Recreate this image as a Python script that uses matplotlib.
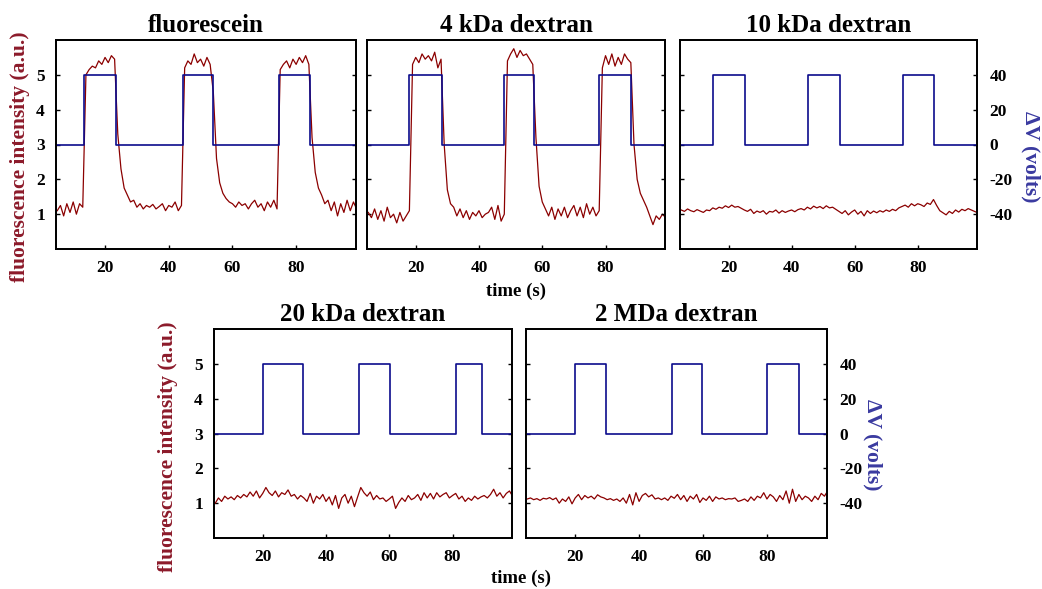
import numpy as np
import matplotlib
matplotlib.use('Agg')
import matplotlib.pyplot as plt

plt.rcParams['font.family'] = ['Liberation Serif', 'DejaVu Serif']
plt.rcParams['font.weight'] = 'bold'
plt.rcParams['axes.unicode_minus'] = False

# sampling times of the fluorescence traces (s)
t = np.arange(5, 100, 1.0)

titles = ['fluorescein', '4 kDa dextran', '10 kDa dextran',
          '20 kDa dextran', '2 MDa dextran']

# fluorescence intensity (a.u.), one value per second from t=5 to t=99
fluor_fluorescein = [
    1.10, 1.25, 0.95, 1.30, 1.05, 1.35, 1.00, 1.30, 1.20, 5.00,
    5.15, 5.25, 5.20, 5.40, 5.30, 5.50, 5.35, 5.55, 5.45, 3.30,
    2.30, 1.75, 1.55, 1.35, 1.40, 1.20, 1.30, 1.15, 1.25, 1.20,
    1.28, 1.15, 1.22, 1.30, 1.10, 1.25, 1.20, 1.35, 1.10, 1.25,
    5.20, 5.40, 5.30, 5.60, 5.35, 5.45, 5.25, 5.50, 5.30, 4.50,
    2.60, 1.90, 1.60, 1.45, 1.35, 1.30, 1.20, 1.35, 1.25, 1.30,
    1.15, 1.30, 1.40, 1.20, 1.30, 1.10, 1.35, 1.20, 1.40, 1.15,
    5.15, 5.30, 5.40, 5.20, 5.45, 5.30, 5.50, 5.35, 5.55, 5.30,
    3.20, 2.20, 1.75, 1.55, 1.30, 1.40, 1.10, 1.35, 0.95, 1.30,
    1.05, 1.40, 1.10, 1.35, 1.15]
fluor_4kda = [
    1.05, 0.90, 1.15, 0.85, 1.10, 0.80, 1.20, 0.90, 1.00, 0.75,
    1.05, 0.80, 0.95, 1.10, 5.30, 5.50, 5.35, 5.60, 5.45, 5.55,
    5.40, 5.65, 5.20, 5.45, 3.00, 1.70, 1.30, 1.20, 0.95, 1.15,
    0.90, 1.10, 0.85, 1.05, 0.95, 1.10, 0.90, 1.00, 1.05, 1.20,
    0.85, 1.25, 0.80, 1.00, 5.40, 5.60, 5.75, 5.50, 5.70, 5.55,
    5.60, 5.45, 5.30, 3.20, 1.80, 1.35, 1.15, 0.95, 1.20, 0.85,
    1.15, 0.95, 1.20, 0.90, 1.10, 1.25, 0.95, 1.20, 0.90, 1.30,
    1.00, 1.20, 0.95, 1.10, 5.20, 5.55, 5.30, 5.60, 5.25, 5.50,
    5.30, 5.60, 5.45, 5.35, 3.00, 2.00, 1.60, 1.40, 1.20, 0.95,
    0.70, 0.95, 0.85, 1.00, 0.90]
fluor_10kda = [
    1.12, 1.08, 1.15, 1.10, 1.07, 1.13, 1.09, 1.05, 1.12, 1.10,
    1.18, 1.14, 1.20, 1.17, 1.24, 1.19, 1.26, 1.20, 1.22, 1.17,
    1.12, 1.08, 1.14, 1.02, 1.09, 1.05, 1.10, 1.00, 1.08, 1.06,
    1.12, 1.03, 1.10, 1.05, 1.09, 1.12, 1.07, 1.13, 1.16, 1.12,
    1.20, 1.15, 1.23, 1.18, 1.22, 1.16, 1.24, 1.18, 1.20, 1.14,
    1.08, 1.02, 1.10, 0.98, 1.06, 1.12, 1.00, 1.08, 0.95, 1.10,
    1.02, 1.09, 1.04, 1.10, 1.06, 1.12, 1.08, 1.14, 1.10, 1.18,
    1.22, 1.26, 1.20, 1.30, 1.24, 1.30, 1.27, 1.22, 1.32, 1.28,
    1.42, 1.25, 1.10, 1.04, 0.98, 1.08, 1.02, 1.12, 1.06, 1.14,
    1.10, 1.16, 1.12, 1.08, 1.04]
fluor_20kda = [
    1.00, 1.15, 1.05, 1.20, 1.12, 1.18, 1.10, 1.22, 1.15, 1.25,
    1.18, 1.32, 1.20, 1.35, 1.15, 1.28, 1.45, 1.30, 1.22, 1.35,
    1.18, 1.30, 1.25, 1.38, 1.20, 1.25, 1.12, 1.22, 1.15, 1.05,
    1.28, 1.00, 1.20, 1.12, 1.25, 1.05, 1.18, 0.95, 1.22, 0.85,
    1.15, 1.25, 1.00, 1.20, 0.90, 1.18, 1.45, 1.30, 1.20, 1.32,
    1.10, 1.22, 1.12, 1.15, 1.05, 1.12, 1.20, 0.85, 1.02, 1.15,
    1.05, 1.22, 1.10, 1.15, 1.25, 1.08, 1.30, 1.15, 1.28, 1.12,
    1.30, 1.18, 1.25, 1.30, 1.15, 1.22, 1.28, 1.12, 1.20, 1.05,
    1.15, 1.08, 1.20, 1.12, 1.18, 1.22, 1.15, 1.25, 1.40, 1.20,
    1.30, 1.15, 1.28, 1.35, 1.20]
fluor_2mda = [
    1.12, 1.15, 1.10, 1.13, 1.08, 1.14, 1.12, 1.16, 1.10, 1.15,
    1.00, 1.12, 1.05, 1.18, 0.98, 1.15, 1.25, 1.10, 1.22, 1.15,
    1.20, 1.12, 1.24, 1.18, 1.15, 1.10, 1.13, 1.08, 1.12, 1.05,
    1.15, 1.00, 1.25, 0.95, 1.30, 1.05, 1.22, 1.28, 1.18, 1.24,
    1.12, 1.15, 1.10, 1.15, 1.08, 1.20, 1.14, 1.25, 1.10, 1.22,
    1.05, 1.20, 1.12, 1.25, 1.02, 1.15, 1.08, 1.20, 1.05, 1.18,
    1.12, 1.15, 1.10, 1.13, 1.12, 1.15, 1.05, 1.08, 1.12, 1.05,
    1.18, 1.08, 1.20, 1.15, 1.30, 1.12, 1.25, 1.18, 1.05, 1.22,
    1.10, 1.35, 1.00, 1.40, 1.05, 1.25, 1.10, 1.20, 1.15, 1.05,
    1.20, 1.10, 1.28, 1.20, 1.35]
fluor = [fluor_fluorescein, fluor_4kda, fluor_10kda, fluor_20kda, fluor_2mda]

# voltage pulses: switch-on / switch-off times (s) and amplitude (V)
pulse_on = [[13.5, 44.5, 74.5], [18.0, 48.0, 78.0], [15.2, 45.2, 75.2],
            [20.0, 50.4, 81.0], [20.0, 50.4, 80.0]]
pulse_off = [[23.5, 54.0, 84.5], [28.4, 57.4, 88.0], [25.1, 55.3, 85.2],
             [32.8, 60.1, 89.2], [29.7, 59.6, 89.9]]
pulse_volts = 40

left_ticks = [1, 2, 3, 4, 5]
right_ticks = [-40, -20, 0, 20, 40]
x_ticks = [20, 40, 60, 80]

red = '#8b0000'
blue = '#0c0c8c'
label_red = '#8c1a2a'
label_blue = '#3a3aa0'

W, H = 1042, 589
fig = plt.figure(figsize=(W / 100, H / 100), dpi=100)


def rect(x0, y0, x1, y1):
    return [x0 / W, 1 - y1 / H, (x1 - x0) / W, (y1 - y0) / H]


boxes = [(56, 40, 356, 249), (367, 40, 665, 249), (680, 40, 977, 249),
         (214, 329, 512, 538), (526, 329, 827, 538)]
show_left = [True, False, False, True, False]
show_right = [False, False, True, False, True]

for i in range(5):
    ax = fig.add_axes(rect(*boxes[i]))
    ax.plot(t, fluor[i], color=red, lw=0.9)
    ax.set_xlim(4.6, 98.8)
    ax.set_ylim(0, 6)
    ax.set_xticks(x_ticks)
    ax.set_yticks(left_ticks)
    ax.tick_params(direction='in', length=3, width=1, labelsize=12.5, pad=8)
    ax.tick_params(axis='y', labelleft=show_left[i])
    for s in ax.spines.values():
        s.set_linewidth(1.3)
    ax.set_title(titles[i], fontsize=18, fontweight='bold', pad=6)

    # square voltage pulse, drawn from the on/off times
    tt, vv = [4.0], [0]
    for a, b in zip(pulse_on[i], pulse_off[i]):
        tt += [a, a, b, b]
        vv += [0, pulse_volts, pulse_volts, 0]
    tt.append(100.0)
    vv.append(0)
    ax2 = ax.twinx()
    ax2.plot(tt, vv, color=blue, lw=1.2)
    ax2.set_ylim(-60, 60)
    ax2.set_xlim(4.6, 98.8)
    ax2.set_yticks(right_ticks)
    ax2.tick_params(direction='in', length=3, width=1, labelsize=12.5,
                    pad=9, labelright=show_right[i])
    for s in ax2.spines.values():
        s.set_linewidth(1.3)

ylab = 'fluorescence intensity (a.u.)'
vlab = '\u0394V (volts)'
fig.text(20 / W, 1 - 157 / H, ylab, rotation=90, ha='center', va='center',
         fontsize=15.5, fontweight='bold', color=label_red)
fig.text(168 / W, 1 - 447 / H, ylab, rotation=90, ha='center', va='center',
         fontsize=15.5, fontweight='bold', color=label_red)
fig.text(1031 / W, 1 - 157 / H, vlab, rotation=270, ha='center', va='center',
         fontsize=15.5, fontweight='bold', color=label_blue)
fig.text(873 / W, 1 - 445 / H, vlab, rotation=270, ha='center', va='center',
         fontsize=15.5, fontweight='bold', color=label_blue)
fig.text(516 / W, 1 - 291 / H, 'time (s)', ha='center', va='center',
         fontsize=13.5, fontweight='bold')
fig.text(521 / W, 1 - 578 / H, 'time (s)', ha='center', va='center',
         fontsize=13.5, fontweight='bold')

fig.savefig('out.png', dpi=100)
